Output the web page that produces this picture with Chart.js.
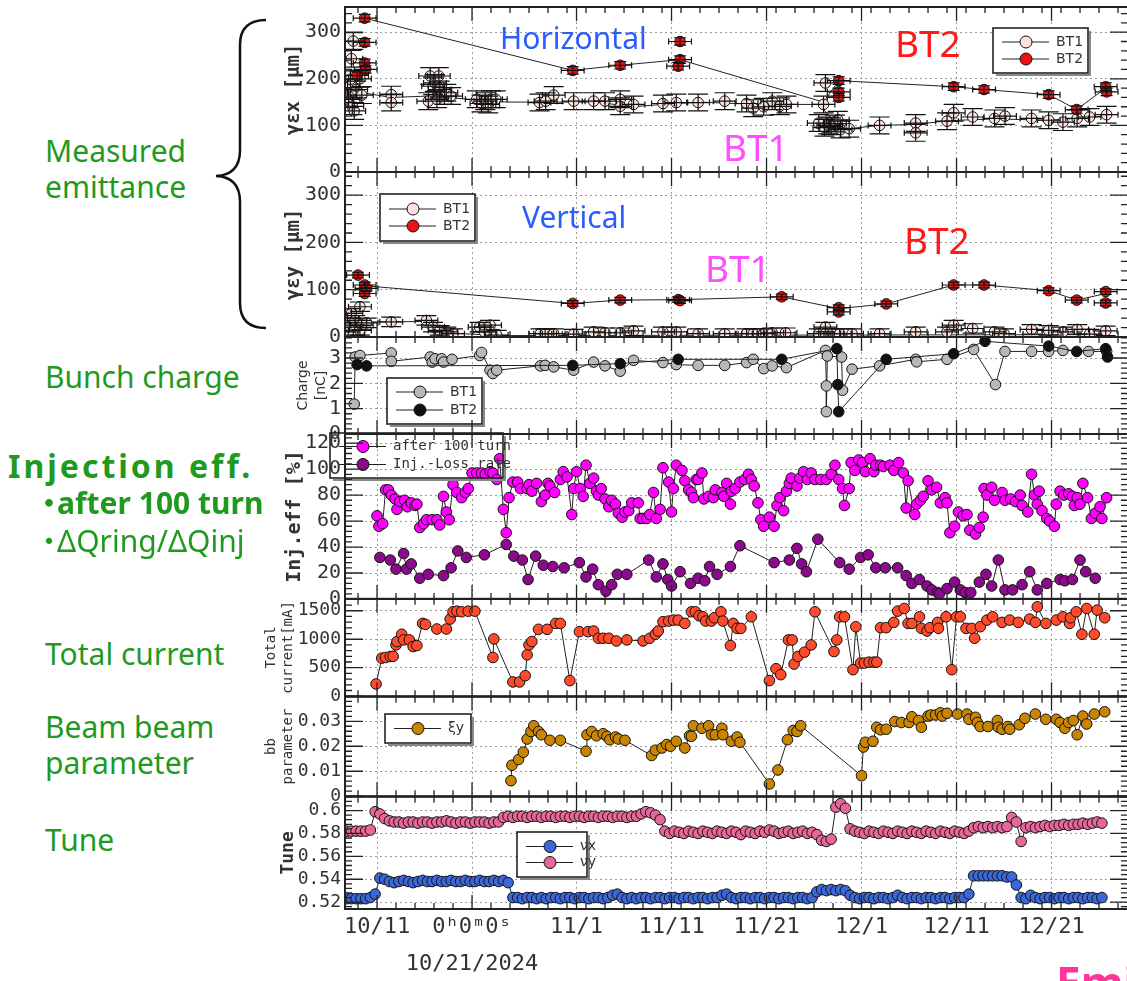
<!DOCTYPE html>
<html lang="en">
<head>
<meta charset="UTF-8">
<title>Beam parameters Oct-Dec 2024</title>
<script src="https://cdn.jsdelivr.net/npm/chart.js"></script>
<style>
  body { margin: 0; background: #fff; overflow: hidden; }
  #page { position: relative; width: 1127px; height: 981px; overflow: hidden; background: #fff; }
  #page canvas { position: absolute; }
  .note { position: absolute; white-space: nowrap; font-family: "Noto Sans", "Noto Sans CJK JP", sans-serif; line-height: 1; }
  .green { color: #1f9a1f; font-size: 30px; line-height: 36px; }
  .big { font-size: 37px; }
  .hv { font-size: 30px; color: #2c5cff; }
  .dot { position: relative; left: -6px; margin-right: -13px; }
</style>
</head>
<body>
<div id="page">
  <canvas id="p1"></canvas>
  <canvas id="p2"></canvas>
  <canvas id="p3"></canvas>
  <canvas id="p4"></canvas>
  <canvas id="p5"></canvas>
  <canvas id="p6"></canvas>
  <canvas id="p7"></canvas>

  <div class="note hv" style="left:500px; top:23px;">Horizontal</div>
  <div class="note big" style="left:895px; top:24px; color:#ff1a1a;">BT2</div>
  <div class="note big" style="left:723px; top:128px; color:#ff4dff;">BT1</div>
  <div class="note hv" style="left:522px; top:202px;">Vertical</div>
  <div class="note big" style="left:705px; top:249px; color:#ff4dff;">BT1</div>
  <div class="note big" style="left:904px; top:221px; color:#ff1a1a;">BT2</div>

  <div class="note green" style="left:45px; top:133px;">Measured<br>emittance</div>
  <div class="note green" style="left:45px; top:359px;">Bunch charge</div>
  <div class="note green" style="left:8px; top:448px; font-weight:bold; font-size:32px; letter-spacing:3px;">Injection eff.</div>
  <div class="note green" style="left:40px; top:485px; font-weight:bold;"><span class="dot">・</span>after 100 turn</div>
  <div class="note green" style="left:40px; top:523px;"><span class="dot">・</span>ΔQring/ΔQinj</div>
  <div class="note green" style="left:45px; top:636px;">Total current</div>
  <div class="note green" style="left:45px; top:709px;">Beam beam<br>parameter</div>
  <div class="note green" style="left:45px; top:822px;">Tune</div>
  <div class="note" style="left:1056px; top:960px; font-size:44px; font-weight:bold; color:#ff3399;">Emittance</div>

  <svg style="position:absolute; left:0; top:0;" width="300" height="340">
    <path d="M 266 20 Q 240 20 240 45 L 240 150 Q 240 175 216 176 Q 240 177 240 202 L 240 303 Q 240 328 266 328"
          fill="none" stroke="#111" stroke-width="2.5"/>
  </svg>
</div>

<script>
// x axis: days counted from 2024-10-01 (10/11 = 10, 11/1 = 31, 12/1 = 61)
const X_MIN = 6.63, X_MAX = 89.05;
const xTickDays = [10, 20, 31, 41, 51, 61, 71, 81];
const xTickLabels = ['10/11', ['0ʰ0ᵐ0ˢ', '10/21/2024'], '11/1', '11/11', '11/21', '12/1', '12/11', '12/21'];

// horizontal emittance [um]
const emitXBT1 = [[6.9,181],[7.0,156],[7.2,199],[7.3,243],[7.4,141],[7.5,281],[7.6,131],[7.8,177],[8.2,200],[8.4,165],
  [11.5,166],[11.5,149],[15.4,152],[15.6,206],[15.9,184],[16.1,191],[16.3,156],[16.5,206],[16.6,177],[17.1,163],[17.3,170],[17.8,163],
  [20.5,156],[21.0,147],[21.4,152],[21.7,145],[22.0,156],[22.5,156],[27.1,149],[27.75,152],[28.6,165],
  [30.7,152],[32.8,152],[34.0,152],[35.6,156],[35.6,141],[37.0,145],[40.1,147],[41.5,149],[43.8,149],
  [46.6,152],[48.9,147],[49.6,137],[50.7,140],[51.6,152],[52.4,141],[53.1,145],
  [56.5,105],[57.0,145],[57.1,95],[57.2,191],[57.5,100],[57.8,98],[58.2,104],[58.5,112],[58.8,91],[59.7,93],
  [62.9,100],[66.7,105],[66.7,84],[70.0,109],[70.7,127],[72.7,118],[75.0,115],[76.1,120],[78.9,115],
  [80.7,111],[82.2,107],[83.7,115],[85.0,118],[86.8,123]];
const emitXBT2 = [[7.9,207],[8.7,330],[8.7,278],[8.7,234],[8.8,220],[30.6,218],[35.6,229],[41.9,280],[41.9,241],[41.7,227],
  [58.6,196],[58.6,172],[58.6,160],[70.7,183],[73.9,177],[80.7,166],[83.65,134],[86.7,183],[86.8,172]];
const trendXBT1 = [[7.0,175],[11.5,160],[15.5,163],[18.5,158],[21.5,152],[24,150],[27.5,150],[33,150],[37,140],[40,145],
  [44,150],[50,145],[56.5,145],[58.5,100],[59.7,93],[62.9,100],[66.7,102],[70,110],[75,114],[80.7,111],[86.8,120]];
const trendXBT2 = [[8.7,330],[30.6,218],[35.6,229],[41.9,241],[57.0,150],[58.6,196],[70.7,183],[73.9,177],[80.7,166],[83.65,134],[86.7,180]];

// vertical emittance [um]
const emitYBT1 = [[6.9,40],[7.1,21],[7.3,50],[7.5,4],[7.7,35],[8.2,64],[8.2,14],[8.4,25],[8.9,30],
  [11.5,32],[15.2,35],[15.9,21],[16.6,14],[17.3,11],[18.0,7],[20.8,21],[21.3,11],[21.9,25],[22.6,4],
  [27.2,7],[27.7,7],[28.6,7],[30.7,6],[32.8,11],[34.0,9],[35.6,9],[37.0,13],[40.1,11],[41.5,11],[43.8,7],
  [46.6,7],[48.9,7],[49.6,7],[50.7,7],[51.6,9],[53.0,9],[56.5,7],[57.2,21],[57.9,7],[58.7,7],[60.0,7],[62.9,7],
  [66.7,11],[70.0,11],[70.7,25],[72.7,18],[75.0,11],[76.0,7],[78.9,16],[80.7,14],[82.2,11],[83.7,16],[85.0,6],[86.7,13]];
const emitYBT2 = [[8.0,131],[8.7,110],[8.7,92],[8.9,103],[30.6,71],[35.6,78],[41.7,79],[41.9,77],[52.6,85],[58.6,62],[58.6,53],
  [63.6,70],[70.7,110],[73.9,110],[80.7,98],[83.65,78],[86.7,96],[86.7,72]];
const trendYBT1 = [[6.8,32],[11.5,32],[15.2,33],[18,8],[21,5],[24,3],[86.8,5]];
const trendYBT2 = [[8.9,108],[30.6,71],[35.6,78],[41.9,79],[52.6,85],[58.6,60],[63.6,70],[70.7,110],[73.9,110],[80.7,98],[83.65,78],[86.7,92]];

// bunch charge [nC]
const chargeBT1 = [[7.6,1.18],[7.7,3.04],[8.2,3.1],[11.5,3.2],[11.5,2.87],[15.6,3.04],[15.8,2.84],[16.1,2.97],[16.8,2.97],[17.0,2.84],
  [17.9,2.95],[20.8,3.1],[21.0,3.22],[21.9,2.52],[22.2,2.39],[22.6,2.52],[27.2,2.69],[27.7,2.71],[28.6,2.65],[30.7,2.52],
  [32.8,2.84],[34.0,2.69],[35.6,2.48],[37.0,2.91],[40.1,2.82],[41.5,2.74],[43.8,2.71],[46.6,2.71],[48.9,2.82],[49.6,2.95],
  [50.7,2.58],[51.6,2.69],[53.1,2.62],[57.2,3.3],[57.3,1.9],[57.3,0.88],[57.4,3.08],[58.9,3.04],[59.0,1.73],[60.0,2.56],
  [62.9,2.69],[66.7,2.95],[66.8,2.85],[70.0,2.95],[72.8,3.34],[75.1,1.95],[76.1,3.26],[78.9,3.26],[80.7,3.26],[82.2,3.3],
  [84.9,3.26],[86.8,3.26]];
const chargeBT2 = [[7.9,2.74],[8.9,2.69],[30.6,2.71],[35.6,2.78],[41.7,2.95],[52.6,2.95],[58.4,3.37],[58.5,1.95],[58.6,0.88],
  [63.6,2.95],[70.7,3.17],[74.0,3.66],[80.7,3.47],[83.65,3.26],[86.7,3.37],[86.9,3.04]];

// injection efficiency [%]
const injAfter100 = [[10.0,64],[10.2,56],[10.6,58],[10.9,84],[11.2,84],[11.5,80],[11.9,77],[12.1,69],[12.4,75],[12.9,76],
  [13.2,71],[13.6,74],[14.0,72],[14.2,73],[14.5,55],[14.9,58],[15.2,61],[15.8,61],[16.3,61],[16.6,57],[17.0,79],[17.3,67],
  [17.6,61],[18.0,88],[18.4,82],[18.9,78],[19.3,82],[19.6,85],[20.0,97],[20.5,97],[21.0,97],[21.4,96],[21.9,98],[22.2,97],
  [22.6,92],[22.9,108],[23.3,69],[23.6,51],[23.9,78],[24.3,90],[24.8,90],[25.1,85],[25.8,85],[26.0,88],[26.3,83],[26.8,89],
  [27.3,75],[27.7,80],[28.0,89],[28.2,87],[28.7,82],[29.3,92],[29.6,98],[30.0,94],[30.5,65],[30.7,85],[31.0,98],[31.4,85],
  [31.7,79],[32.0,103],[32.4,89],[32.8,93],[33.1,83],[33.3,80],[33.6,85],[34.0,77],[34.4,71],[34.7,76],[35.1,73],[35.4,66],
  [35.8,63],[36.1,67],[36.5,68],[36.8,74],[37.5,74],[37.7,62],[38.0,62],[38.4,62],[38.7,65],[39.1,82],[39.4,62],[39.8,69],
  [40.1,101],[40.7,90],[41.0,67],[41.2,85],[41.5,103],[42.1,99],[42.4,91],[42.8,84],[43.1,82],[43.3,78],[43.6,92],[43.8,92],
  [44.2,97],[44.4,77],[44.9,79],[45.4,78],[45.6,84],[46.3,82],[46.5,79],[46.8,89],[47.2,73],[47.3,83],[47.7,85],[48.2,90],
  [48.7,92],[49.1,96],[49.4,92],[49.7,87],[50.1,74],[50.4,61],[50.7,56],[51.3,63],[51.8,56],[52.1,72],[52.4,78],[52.8,68],
  [53.1,83],[53.4,89],[53.6,93],[54.2,87],[54.5,93],[54.9,98],[55.3,92],[55.7,97],[56.1,92],[56.7,92],[57.3,92],[57.8,96],
  [58.2,103],[58.6,92],[59.0,85],[59.2,72],[59.7,85],[59.9,105],[60.3,99],[60.7,107],[61.1,105],[61.4,98],[61.9,108],[62.3,98],
  [62.5,103],[63.0,103],[63.3,102],[64.0,103],[64.4,99],[64.9,105],[65.4,97],[65.7,70],[65.9,91],[66.6,65],[66.8,73],[67.2,76],
  [67.5,79],[68.0,91],[68.4,84],[68.9,86],[69.3,74],[69.8,78],[70.0,74],[70.3,51],[70.8,56],[71.2,67],[71.7,64],[72.1,65],
  [72.4,53],[73.0,50],[73.4,55],[73.8,63],[73.9,85],[74.2,80],[74.7,86],[75.0,76],[75.8,82],[76.1,76],[76.7,77],[77.2,75],
  [77.7,80],[77.9,72],[78.5,67],[78.9,96],[79.2,80],[79.5,73],[79.7,83],[80.0,68],[80.5,62],[80.8,60],[81.3,56],[81.5,73],
  [81.9,83],[82.3,80],[82.8,81],[83.2,79],[83.4,72],[83.7,78],[84.0,73],[84.3,89],[84.8,78],[85.2,62],[85.6,66],[86.1,71],
  [86.3,62],[86.8,78]];
const injLossRate = [[10.3,32],[11.4,30],[12.0,23],[12.8,35],[13.1,23],[13.6,27],[14.5,16],[15.4,19],[17.0,18],[17.8,24],
  [18.5,37],[19.4,32],[21.3,34],[23.6,42],[24.4,33],[25.3,30],[25.9,15],[26.7,33],[27.5,26],[28.5,25],[29.7,24],[31.3,28],
  [32.0,17],[32.7,23],[33.3,11],[34.1,6],[34.7,11],[35.3,19],[36.3,19],[38.6,30],[39.4,17],[40.1,27],[40.6,15],[41.0,10],
  [41.9,21],[43.0,12],[43.8,16],[44.5,14],[45.0,25],[45.8,19],[47.2,25],[48.2,41],[51.8,28],[53.4,30],[54.2,39],[54.7,27],
  [55.2,21],[56.4,46],[58.7,28],[59.7,23],[60.9,32],[61.7,34],[62.5,24],[63.5,24],[64.8,24],[65.7,18],[66.3,12],[67.1,15],
  [67.9,10],[68.4,7],[69.0,5],[69.2,4],[70.0,8],[70.8,13],[71.4,7],[71.9,5],[72.5,5],[73.4,13],[74.1,19],[74.7,10],
  [75.4,30],[76.1,7],[76.9,7],[77.9,11],[78.7,21],[79.5,7],[80.5,12],[81.9,15],[82.4,14],[83.2,15],[84.0,30],[84.6,21],[85.6,16]];

// total stored current [mA]
const totalCurrent = [[9.9,215],[10.5,668],[10.9,680],[11.4,697],[11.7,700],[12.0,900],[12.1,959],[12.6,1087],[12.8,988],
  [13.4,988],[13.8,872],[14.2,889],[14.8,1278],[15.1,1261],[16.3,1180],[17.3,1180],[17.7,1354],[18.0,1482],[18.4,1493],
  [18.9,1482],[19.6,1493],[20.3,1493],[22.2,680],[22.3,1005],[24.3,250],[25.0,250],[25.6,360],[25.8,726],[26.0,900],
  [26.3,959],[27.0,1174],[27.9,1174],[28.8,1278],[29.3,1278],[30.3,273],[31.3,1133],[32.2,1133],[32.8,1145],[33.3,1017],
  [33.8,1017],[34.4,1017],[35.2,970],[36.3,988],[38.0,970],[38.7,1017],[39.3,1087],[39.6,1145],[40.1,1307],[40.7,1319],
  [41.2,1336],[41.7,1336],[42.4,1278],[43.1,1482],[43.5,1482],[43.9,1412],[44.3,1394],[44.6,1319],[45.2,1319],[45.5,1377],
  [46.2,1482],[46.4,1319],[47.2,889],[47.5,1278],[47.9,1191],[48.3,1191],[49.4,1394],[51.3,273],[52.0,482],[52.5,378],
  [53.3,988],[53.7,988],[53.9,564],[54.3,697],[55.0,773],[55.7,900],[56.1,1482],[58.1,784],[58.4,988],[58.7,1394],
  [59.2,1394],[60.1,465],[60.4,1220],[60.9,581],[61.3,581],[61.8,598],[62.3,598],[62.6,598],[63.0,1203],[63.6,1203],
  [64.4,1296],[64.8,1493],[65.5,1540],[65.9,1278],[66.3,1278],[67.1,1394],[67.3,1191],[67.9,1145],[68.2,1203],[69.0,1296],
  [69.1,1191],[69.9,1394],[70.5,465],[71.0,1394],[71.4,1394],[72.0,1191],[72.6,1191],[72.9,1017],[73.5,1220],[74.2,1336],
  [74.8,1394],[75.8,1296],[76.6,1336],[77.5,1296],[78.7,1354],[79.3,1296],[79.5,1569],[80.4,1278],[81.5,1336],[82.2,1394],
  [82.9,1278],[83.0,1377],[83.6,1482],[84.2,1087],[84.7,1540],[85.5,1087],[85.8,1511],[86.6,1377]];

// beam-beam parameter xi_y
const xiY = [[24.1,0.0062],[24.2,0.0124],[24.9,0.0147],[25.4,0.0176],[25.8,0.0229],[26.2,0.0259],[26.5,0.0282],[27.0,0.0259],
  [27.3,0.0246],[28.2,0.0224],[29.3,0.0224],[32.0,0.018],[32.1,0.0246],[32.6,0.0259],[33.1,0.0242],[33.8,0.025],[34.2,0.024],
  [34.5,0.0226],[35.1,0.0237],[35.4,0.0229],[36.1,0.0224],[38.9,0.0163],[39.3,0.0184],[40.0,0.0193],[40.5,0.0207],[40.9,0.02],
  [41.5,0.022],[42.4,0.0193],[42.9,0.0242],[43.1,0.024],[43.3,0.0282],[44.2,0.0272],[44.9,0.0282],[45.2,0.0246],[45.6,0.0246],
  [46.3,0.0272],[46.4,0.0246],[47.3,0.022],[47.9,0.0237],[48.2,0.0216],[51.3,0.0049],[52.2,0.0105],[53.2,0.0226],[53.8,0.0263],
  [54.2,0.0259],[54.6,0.0282],[61.0,0.0082],[61.2,0.0197],[61.4,0.0216],[62.2,0.022],[62.6,0.0276],[63.0,0.0266],[63.6,0.0268],
  [64.5,0.0299],[65.2,0.0295],[66.0,0.0295],[66.3,0.0318],[67.0,0.0303],[67.3,0.0276],[68.0,0.0321],[68.3,0.0325],[68.8,0.0325],
  [69.3,0.0334],[69.5,0.0321],[70.0,0.0332],[71.1,0.0329],[72.1,0.0329],[72.3,0.0308],[73.0,0.0316],[73.2,0.0295],[73.5,0.0279],
  [74.3,0.0279],[75.3,0.0303],[75.4,0.0276],[75.8,0.0268],[76.4,0.0279],[76.6,0.0268],[77.6,0.0286],[78.2,0.0312],[79.3,0.0329],
  [80.4,0.0308],[81.5,0.0308],[81.9,0.0295],[82.4,0.0272],[82.8,0.0295],[83.3,0.0303],[83.7,0.0246],[84.3,0.0321],[84.7,0.0289],
  [85.5,0.0329],[86.6,0.0338]];

// betatron tunes
const tuneDays = [
  6.8,7.3,7.8,8.3,8.8,9.3,9.8,10.3,10.8,11.3, 11.8,12.3,12.8,13.3,13.8,14.3,14.8,15.3,15.8,16.3,
  16.8,17.3,17.8,18.3,18.8,19.3,19.8,20.3,20.8,21.3, 21.8,22.3,22.8,23.3,23.8,24.3,24.8,25.3,25.8,26.3,
  26.8,27.3,27.8,28.3,28.8,29.3,29.8,30.3,30.8,31.3, 31.8,32.3,32.8,33.3,33.8,34.3,34.8,35.3,35.8,36.3,
  36.8,37.3,37.8,38.3,38.8,39.3,39.8,40.3,40.8,41.3, 41.8,42.3,42.8,43.3,43.8,44.3,44.8,45.3,45.8,46.3,
  46.8,47.3,47.8,48.3,48.8,49.3,49.8,50.3,50.8,51.3, 51.8,52.3,52.8,53.3,53.8,54.3,54.8,55.3,55.8,56.3,
  56.8,57.3,57.8,58.3,58.8,59.3,59.8,60.3,60.8,61.3, 61.8,62.3,62.8,63.3,63.8,64.3,64.8,65.3,65.8,66.3,
  66.8,67.3,67.8,68.3,68.8,69.3,69.8,70.3,70.8,71.3, 71.8,72.3,72.8,73.3,73.8,74.3,74.8,75.3,75.8,76.3,
  76.8,77.3,77.8,78.3,78.8,79.3,79.8,80.3,80.8,81.3, 81.8,82.3,82.8,83.3,83.8,84.3,84.8,85.3,85.8,86.3];
const nuX = [
  0.523,0.523,0.523,0.523,0.523,0.524,0.527,0.541,0.540,0.538, 0.537,0.538,0.539,0.538,0.537,0.538,0.539,0.538,0.538,0.539,
  0.538,0.538,0.539,0.538,0.538,0.539,0.538,0.538,0.539,0.538, 0.538,0.539,0.538,0.539,0.537,0.524,0.524,0.523,0.524,0.524,
  0.523,0.524,0.523,0.524,0.524,0.523,0.524,0.524,0.523,0.524, 0.524,0.523,0.524,0.524,0.523,0.524,0.526,0.527,0.524,0.523,
  0.524,0.523,0.524,0.524,0.523,0.524,0.524,0.523,0.524,0.524, 0.523,0.524,0.524,0.523,0.524,0.524,0.523,0.524,0.524,0.526,
  0.527,0.524,0.523,0.524,0.524,0.523,0.524,0.524,0.523,0.524, 0.524,0.523,0.524,0.524,0.523,0.524,0.524,0.523,0.524,0.529,
  0.531,0.530,0.531,0.530,0.531,0.530,0.526,0.524,0.523,0.524, 0.524,0.523,0.524,0.524,0.523,0.524,0.526,0.524,0.523,0.524,
  0.524,0.523,0.524,0.524,0.523,0.524,0.524,0.523,0.524,0.524, 0.524,0.527,0.543,0.543,0.543,0.543,0.543,0.543,0.543,0.542,
  0.542,0.535,0.524,0.523,0.526,0.524,0.523,0.524,0.524,0.523, 0.524,0.524,0.523,0.524,0.524,0.523,0.524,0.524,0.523,0.524];
const nuY = [
  0.582,0.582,0.582,0.582,0.582,0.583,0.599,0.597,0.593,0.591, 0.590,0.590,0.589,0.590,0.590,0.589,0.590,0.590,0.589,0.590,
  0.590,0.591,0.590,0.589,0.590,0.590,0.589,0.590,0.590,0.590, 0.589,0.590,0.590,0.594,0.595,0.594,0.595,0.595,0.594,0.595,
  0.595,0.594,0.595,0.595,0.594,0.595,0.595,0.594,0.595,0.595, 0.594,0.595,0.595,0.594,0.595,0.595,0.594,0.595,0.595,0.594,
  0.595,0.595,0.597,0.599,0.598,0.596,0.592,0.582,0.580,0.582, 0.581,0.580,0.582,0.581,0.580,0.582,0.581,0.580,0.582,0.581,
  0.580,0.582,0.581,0.579,0.582,0.581,0.580,0.582,0.581,0.583, 0.582,0.580,0.581,0.582,0.580,0.581,0.582,0.580,0.581,0.579,
  0.574,0.573,0.575,0.603,0.606,0.602,0.584,0.582,0.581,0.580, 0.582,0.581,0.580,0.582,0.581,0.580,0.582,0.581,0.580,0.582,
  0.581,0.580,0.582,0.581,0.580,0.582,0.581,0.580,0.582,0.581, 0.580,0.582,0.585,0.586,0.585,0.586,0.585,0.586,0.585,0.586,
  0.594,0.590,0.573,0.585,0.586,0.585,0.586,0.587,0.586,0.587, 0.587,0.588,0.587,0.588,0.588,0.589,0.588,0.589,0.590,0.589];

const MONO = "'DejaVu Sans Mono', monospace";
const SANS = "'DejaVu Sans', sans-serif";
const PAD = 12;
const CANVAS_LEFT = 260;
const CANVAS_W = 880;

// frame with inward ticks on all four sides (gnuplot look)
const frameTicks = {
  id: 'frameTicks',
  afterDraw(chart) {
    const { ctx, chartArea: a } = chart;
    const xs = chart.scales.x, ys = chart.scales.y;
    ctx.save();
    ctx.strokeStyle = '#222';
    ctx.lineWidth = 1.3;
    ctx.beginPath();
    const vTick = (px, len) => {
      ctx.moveTo(px, a.top); ctx.lineTo(px, a.top + len);
      ctx.moveTo(px, a.bottom); ctx.lineTo(px, a.bottom - len);
    };
    for (let d = 6; d <= 89; d += 2) {
      const px = xs.getPixelForValue(d);
      if (px > a.left && px < a.right) vTick(px, 6);
    }
    xTickDays.forEach(d => vTick(xs.getPixelForValue(d), 14));
    const sub = chart.options.scales.y.ticks.stepSize / 5;
    for (let k = Math.ceil(ys.min / sub - 1e-6); k * sub <= ys.max + 1e-9; k++) {
      const py = ys.getPixelForValue(k * sub);
      const len = (k % 5 === 0) ? 18 : 7;
      ctx.moveTo(a.left, py); ctx.lineTo(a.left + len, py);
      ctx.moveTo(a.right, py); ctx.lineTo(a.right - len, py);
    }
    ctx.stroke();
    ctx.lineWidth = 2;
    ctx.strokeRect(a.left, a.top, a.width, a.height);
    ctx.restore();
  }
};

// x/y error bars for the emittance points
const errorBars = {
  id: 'errorBars',
  afterDatasetsDraw(chart) {
    const { ctx, chartArea: a } = chart;
    const xs = chart.scales.x, ys = chart.scales.y;
    ctx.save();
    ctx.beginPath(); ctx.rect(a.left, a.top, a.width, a.height); ctx.clip();
    ctx.strokeStyle = '#111';
    ctx.lineWidth = 1.2;
    chart.data.datasets.forEach(ds => {
      if (!ds.errY) return;
      const cap = ds.cap;
      ds.data.forEach(([d, v]) => {
        const px = xs.getPixelForValue(d), py = ys.getPixelForValue(v);
        const x0 = xs.getPixelForValue(d - ds.errX), x1 = xs.getPixelForValue(d + ds.errX);
        const y0 = ys.getPixelForValue(v + ds.errY), y1 = ys.getPixelForValue(v - ds.errY);
        ctx.beginPath();
        ctx.moveTo(x0, py); ctx.lineTo(x1, py);
        ctx.moveTo(x0, py - 3); ctx.lineTo(x0, py + 3);
        ctx.moveTo(x1, py - 3); ctx.lineTo(x1, py + 3);
        ctx.moveTo(px, y0); ctx.lineTo(px, y1);
        ctx.moveTo(px - cap, y0); ctx.lineTo(px + cap, y0);
        ctx.moveTo(px - cap, y1); ctx.lineTo(px + cap, y1);
        ctx.stroke();
      });
    });
    ctx.restore();
  }
};

// boxed key, placed in page coordinates
const boxLegend = {
  id: 'boxLegend',
  afterDraw(chart, args, o) {
    if (!o || !o.items) return;
    const { ctx } = chart;
    const x = o.x - chart.canvas.offsetLeft, y = o.y - chart.canvas.offsetTop;
    ctx.save();
    if (o.fill) { ctx.fillStyle = '#fff'; ctx.fillRect(x, y, o.w, o.h); }
    ctx.strokeStyle = '#888'; ctx.lineWidth = 2;
    ctx.beginPath(); ctx.moveTo(x + o.w + 2, y + 3); ctx.lineTo(x + o.w + 2, y + o.h + 2); ctx.lineTo(x + 3, y + o.h + 2); ctx.stroke();
    ctx.strokeStyle = '#222'; ctx.lineWidth = 1.6;
    ctx.strokeRect(x, y, o.w, o.h);
    const n = o.items.length, gap = o.gap || 17;
    o.items.forEach((it, i) => {
      const cy = y + o.h / 2 + (i - (n - 1) / 2) * gap;
      ctx.strokeStyle = '#222'; ctx.lineWidth = 1.2;
      ctx.beginPath(); ctx.moveTo(x + 9, cy); ctx.lineTo(x + 56, cy); ctx.stroke();
      ctx.beginPath(); ctx.arc(x + 33, cy, 6, 0, Math.PI * 2);
      ctx.fillStyle = it.color; ctx.fill();
      ctx.strokeStyle = '#111'; ctx.lineWidth = 1; ctx.stroke();
      ctx.fillStyle = '#333'; ctx.font = o.font || ('14px ' + SANS);
      ctx.textBaseline = 'middle'; ctx.textAlign = 'left';
      ctx.fillText(it.label, x + 63, cy);
    });
    ctx.restore();
  }
};

function dots(data, color, extra) {
  return Object.assign({
    data, showLine: true, borderColor: '#222', borderWidth: 1,
    backgroundColor: color, pointBackgroundColor: color, pointBorderColor: '#111',
    pointBorderWidth: 1, pointRadius: 5.3
  }, extra || {});
}
function trend(data) {
  return { data, showLine: true, borderColor: '#222', borderWidth: 1, pointRadius: 0 };
}

function panelConfig(spec) {
  return {
    type: 'scatter',
    data: { datasets: spec.datasets },
    plugins: [errorBars, boxLegend, frameTicks],
    options: {
      responsive: false, maintainAspectRatio: false, animation: false, devicePixelRatio: 1,
      layout: { padding: { top: PAD, bottom: spec.showX ? 0 : PAD, left: 0, right: 12 } },
      plugins: { legend: { display: false }, tooltip: { enabled: false }, boxLegend: spec.legend || {} },
      scales: {
        x: {
          type: 'linear', min: X_MIN, max: X_MAX,
          afterBuildTicks: s => { s.ticks = xTickDays.map(v => ({ value: v })); },
          afterFit: s => { s.height = spec.showX ? 71 : 0; },
          grid: { color: '#9a9a9a', lineWidth: 1, drawTicks: false },
          border: { display: false, dash: [2, 3] },
          ticks: {
            display: !!spec.showX, autoSkip: false, maxRotation: 0, padding: 0.5,
            color: '#333', font: { family: MONO, size: 22, lineHeight: 1.65 },
            callback: v => xTickLabels[xTickDays.indexOf(v)]
          }
        },
        y: {
          min: spec.yMin, max: spec.yMax,
          afterFit: s => { s.width = 85; },
          afterBuildTicks: s => {
            const ticks = [];
            for (let k = Math.ceil(spec.yMin / spec.step - 1e-6); k * spec.step <= spec.yMax + 1e-9; k++) {
              ticks.push({ value: +(k * spec.step).toFixed(6) });
            }
            s.ticks = ticks;
          },
          grid: { color: '#9a9a9a', lineWidth: 1, drawTicks: false },
          border: { display: false, dash: [2, 3] },
          ticks: { stepSize: spec.step, padding: 4, color: '#333', autoSkip: false,
                   font: { family: MONO, size: spec.tickSize || 20 },
                   callback: v => String(parseFloat(v.toFixed(4))) },
          title: { display: true, text: spec.title, color: '#333', font: spec.titleFont,
                   padding: { top: spec.titlePad, bottom: 0 } }
        }
      }
    }
  };
}

function makePanel(id, spec) {
  const el = document.getElementById(id);
  const bottomExtra = spec.showX ? 71 : PAD;
  const h = spec.bottom - spec.top;
  el.style.left = CANVAS_LEFT + 'px';
  el.width = CANVAS_W;
  el.height = PAD + h + bottomExtra;
  // first pass: find where the layout puts the plot frame
  let chart = new Chart(el, panelConfig(spec));
  const a = chart.chartArea;
  const top0 = a.top, span0 = a.bottom - a.top, height0 = el.height;
  chart.destroy();
  // second pass: size and place the canvas so the frame lands on the panel edges
  el.width = CANVAS_W;
  el.height = height0 + (h - span0);
  el.style.top = (spec.top - top0) + 'px';
  return new Chart(el, panelConfig(spec));
}

makePanel('p1', {
  top: 7, bottom: 172, yMin: 0, yMax: 354, step: 100,
  title: 'γεx [μm]', titleFont: { family: MONO, size: 19, weight: 'bold' }, titlePad: 23,
  legend: { x: 993, y: 28, w: 95, h: 45, fill: true,
            items: [{ label: 'BT1', color: '#fde2dc' }, { label: 'BT2', color: '#ee1111' }] },
  datasets: [
    dots(emitXBT2, '#ee1111', { showLine: false, errX: 1.2, errY: 8, cap: 6 }),
    dots(emitXBT1, '#fde2dc', { showLine: false, errX: 1.2, errY: 18, cap: 10 }),
    trend(trendXBT2), trend(trendXBT1)
  ]
});

makePanel('p2', {
  top: 172, bottom: 337, yMin: 0, yMax: 349, step: 100,
  title: 'γεy [μm]', titleFont: { family: MONO, size: 19, weight: 'bold' }, titlePad: 23,
  legend: { x: 380, y: 194, w: 95, h: 47, fill: true,
            items: [{ label: 'BT1', color: '#fde2dc' }, { label: 'BT2', color: '#ee1111' }] },
  datasets: [
    dots(emitYBT2, '#ee1111', { showLine: false, errX: 1.2, errY: 6, cap: 6 }),
    dots(emitYBT1, '#fde2dc', { showLine: false, errX: 1.2, errY: 10, cap: 10 }),
    trend(trendYBT2), trend(trendYBT1)
  ]
});

makePanel('p3', {
  top: 337, bottom: 434, yMin: 0, yMax: 3.83, step: 1,
  title: ['Charge', '[nC]'], titleFont: { family: SANS, size: 14, lineHeight: 1.25 }, titlePad: 35,
  legend: { x: 387, y: 378, w: 95, h: 46, fill: true, gap: 18,
            items: [{ label: 'BT1', color: '#b8b8b8' }, { label: 'BT2', color: '#111' }] },
  datasets: [dots(chargeBT2, '#111'), dots(chargeBT1, '#b8b8b8')]
});

makePanel('p4', {
  top: 434, bottom: 599, yMin: 0, yMax: 127, step: 20,
  title: 'Inj.eff [%]', titleFont: { family: MONO, size: 20, weight: 'bold' }, titlePad: 23,
  legend: { x: 330, y: 433, w: 173, h: 45, fill: false, gap: 18, font: '14px ' + MONO,
            items: [{ label: 'after 100 turn', color: '#ff00ff' }, { label: 'Inj.-Loss rate', color: '#8b0a8b' }] },
  datasets: [dots(injAfter100, '#ff00ff'), dots(injLossRate, '#8b0a8b')]
});

makePanel('p5', {
  top: 599, bottom: 697, yMin: 0, yMax: 1710, step: 500, tickSize: 18,
  title: ['Total', 'current[mA]'], titleFont: { family: MONO, size: 14, lineHeight: 1.2 }, titlePad: 3,
  datasets: [dots(totalCurrent, '#ff4b2b')]
});

makePanel('p6', {
  top: 697, bottom: 797, yMin: 0, yMax: 0.0398, step: 0.01, tickSize: 18,
  title: ['bb', 'parameter'], titleFont: { family: MONO, size: 14, lineHeight: 1.2 }, titlePad: 3,
  legend: { x: 385, y: 714, w: 86, h: 29, fill: true,
            items: [{ label: 'ξy', color: '#c98400' }] },
  datasets: [dots(xiY, '#c98400')]
});

makePanel('p7', {
  top: 797, bottom: 910, yMin: 0.514, yMax: 0.612, step: 0.02, showX: true, tickSize: 18,
  title: 'Tune', titleFont: { family: MONO, size: 18, weight: 'bold' }, titlePad: 18,
  legend: { x: 517, y: 832, w: 70, h: 45, fill: true, gap: 16,
            items: [{ label: 'νx', color: '#3a68d8' }, { label: 'νy', color: '#e8679a' }] },
  datasets: [
    dots(tuneDays.map((d, i) => [d, nuY[i]]), '#e8679a'),
    dots(tuneDays.map((d, i) => [d, nuX[i]]), '#3a68d8')
  ]
});
</script>
</body>
</html>
